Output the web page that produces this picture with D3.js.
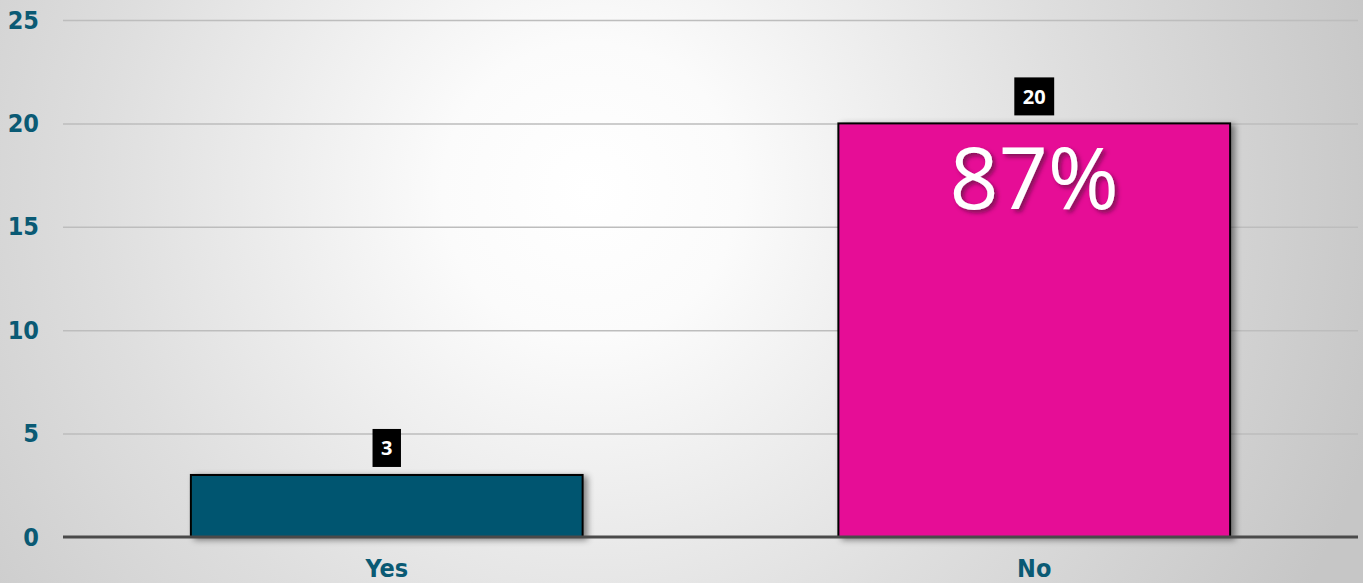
<!DOCTYPE html>
<html>
<head>
<meta charset="utf-8">
<script src="https://cdn.jsdelivr.net/npm/d3@7"></script>
<style>
  html, body { margin: 0; padding: 0; background: #fff; }
  svg { display: block; }
</style>
</head>
<body>
<svg id="chart" width="1363" height="583"></svg>
<script>
// Survey answers
const categories = ["Yes", "No"];
const counts = [3, 20];
const barColors = ["#005570", "#E60E96"];
const yTicks = [0, 5, 10, 15, 20, 25];
// Category whose share of all answers is printed inside its bar
const highlighted = ["No"];

const W = 1363, H = 583;
const margin = { left: 63, right: 5, top: 20, bottom: 46 };
const svg = d3.select("#chart");
const defs = svg.append("defs");
const axisFont = "'DejaVu Sans Condensed', 'DejaVu Sans', sans-serif";

// Soft radial backdrop
const bg = defs.append("radialGradient")
  .attr("id", "bg").attr("gradientUnits", "userSpaceOnUse")
  .attr("cx", 590).attr("cy", 190).attr("r", 820);
bg.append("stop").attr("offset", 0).attr("stop-color", "#ffffff");
bg.append("stop").attr("offset", 0.18).attr("stop-color", "#fbfbfb");
bg.append("stop").attr("offset", 0.6).attr("stop-color", "#dedede");
bg.append("stop").attr("offset", 1).attr("stop-color", "#c6c6c6");
svg.append("rect").attr("width", W).attr("height", H).attr("fill", "url(#bg)");

const shadow = defs.append("filter").attr("id", "barShadow")
  .attr("x", "-10%").attr("y", "-10%").attr("width", "130%").attr("height", "130%");
shadow.append("feDropShadow").attr("dx", 4).attr("dy", 2)
  .attr("stdDeviation", 3).attr("flood-color", "#000").attr("flood-opacity", 0.45);

const textShadow = defs.append("filter").attr("id", "textShadow")
  .attr("x", "-20%").attr("y", "-20%").attr("width", "150%").attr("height", "150%");
textShadow.append("feDropShadow").attr("dx", 3).attr("dy", 3)
  .attr("stdDeviation", 2).attr("flood-color", "#5a0a3a").attr("flood-opacity", 0.7);

const x = d3.scaleBand()
  .domain(categories)
  .range([margin.left, W - margin.right])
  .paddingInner(0.395).paddingOuter(0.1975);

const y = d3.scaleLinear().domain([0, 25]).range([H - margin.bottom, margin.top]);

// Gridlines
const grid = svg.append("g")
  .attr("transform", `translate(${margin.left},0)`)
  .call(d3.axisLeft(y).tickValues(yTicks.filter(t => t > 0))
    .tickSize(-(W - margin.left - margin.right)).tickFormat(""));
grid.select(".domain").remove();
grid.selectAll("line").attr("stroke", "#bdbdbd").attr("stroke-width", 1.5);

// Y tick labels
const yAxis = svg.append("g")
  .attr("transform", `translate(${margin.left},0)`)
  .call(d3.axisLeft(y).tickValues(yTicks).tickSize(0).tickPadding(24));
yAxis.select(".domain").remove();
yAxis.selectAll("text")
  .attr("fill", "#0a5a74")
  .style("font-family", axisFont)
  .style("font-weight", "bold")
  .style("font-size", "25px");

const total = d3.sum(counts);
const rows = categories.map((c, i) => ({ cat: c, value: counts[i], color: barColors[i] }));

// Bars
svg.append("g").selectAll("rect").data(rows).join("rect")
  .attr("x", d => x(d.cat))
  .attr("y", d => y(d.value))
  .attr("width", x.bandwidth())
  .attr("height", d => y(0) - y(d.value))
  .attr("fill", d => d.color)
  .attr("stroke", "#000")
  .attr("stroke-width", 2)
  .attr("filter", "url(#barShadow)");

// Baseline
svg.append("line")
  .attr("x1", margin.left).attr("x2", W - margin.right)
  .attr("y1", y(0)).attr("y2", y(0))
  .attr("stroke", "#4a4a4a").attr("stroke-width", 3);

// X category labels
const xAxis = svg.append("g")
  .attr("transform", `translate(0,${y(0)})`)
  .call(d3.axisBottom(x).tickSize(0).tickPadding(22));
xAxis.select(".domain").remove();
xAxis.selectAll("text")
  .attr("fill", "#0a5a74")
  .style("font-family", axisFont)
  .style("font-weight", "bold")
  .style("font-size", "25px");

// Value labels in black boxes
const labels = svg.append("g").selectAll("g").data(rows).join("g")
  .attr("transform", d => `translate(${x(d.cat) + x.bandwidth() / 2},${y(d.value) - 27})`);
labels.append("text")
  .attr("text-anchor", "middle")
  .attr("dy", "0.36em")
  .attr("fill", "#fff")
  .style("font-family", "'Open Sans', sans-serif")
  .style("font-weight", "bold")
  .style("font-size", "20px")
  .text(d => d.value);
labels.each(function () {
  const g = d3.select(this);
  const bb = g.select("text").node().getBBox();
  const w = bb.width + 17;
  g.insert("rect", "text")
    .attr("x", -w / 2).attr("y", -19)
    .attr("width", w).attr("height", 38)
    .attr("fill", "#000");
});

// Share of total inside highlighted bars
svg.append("g").selectAll("text")
  .data(rows.filter(d => highlighted.includes(d.cat))).join("text")
  .attr("x", d => x(d.cat) + x.bandwidth() / 2)
  .attr("y", d => y(d.value) + 86)
  .attr("text-anchor", "middle")
  .attr("fill", "#fff")
  .attr("filter", "url(#textShadow)")
  .style("font-family", "'Open Sans', sans-serif")
  .style("font-size", "86px")
  .text(d => Math.round(d.value / total * 100) + "%");
</script>
</body>
</html>
